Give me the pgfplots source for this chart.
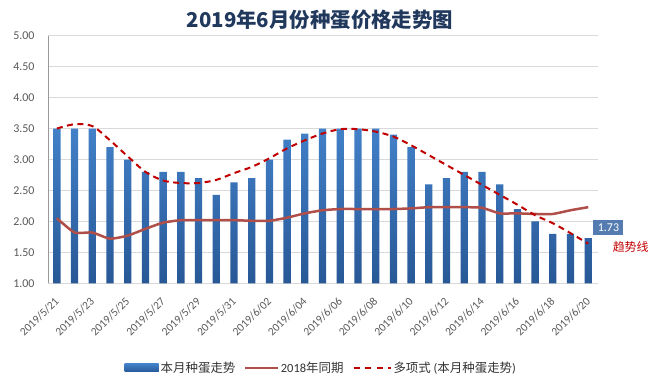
\documentclass[border=0pt]{standalone}
\usepackage{fontspec}
\setmainfont{Carlito}
\newfontfamily\cjk{Noto Sans CJK SC}
\usepackage{pgfplots}
\pgfplotsset{compat=1.18}
\definecolor{barTop}{RGB}{66,128,200}
\definecolor{barBot}{RGB}{40,88,150}
\definecolor{lastyr}{RGB}{176,78,74}
\definecolor{trend}{RGB}{192,0,0}
\definecolor{titlec}{RGB}{31,56,92}
\definecolor{tickc}{RGB}{89,89,89}
\definecolor{boxc}{RGB}{84,124,176}
\begin{document}
\begin{tikzpicture}
\path[use as bounding box] (0,0) rectangle (658bp,386bp);
\node[font=\cjk\bfseries\fontsize{20.5}{20.5}\selectfont, text=titlec] at (320bp,366bp) {2019年6月份种蛋价格走势图};
\begin{axis}[
  at={(48bp,102.7bp)}, anchor=south west,
  scale only axis, width=550bp, height=247.6bp,
  xmin=-0.5, xmax=30.55, ymin=1, ymax=5, clip=false,
  ytick={1,1.5,2,2.5,3,3.5,4,4.5,5},
  /pgf/number format/assume math mode=true,
  yticklabel style={/pgf/number format/fixed, /pgf/number format/fixed zerofill, /pgf/number format/precision=2},
  xtick={0,2,...,30},
  xticklabels={2019/5/21,2019/5/23,2019/5/25,2019/5/27,2019/5/29,2019/5/31,2019/6/02,2019/6/04,2019/6/06,2019/6/08,2019/6/10,2019/6/12,2019/6/14,2019/6/16,2019/6/18,2019/6/20},
  x tick label style={xshift=-3bp, yshift=-8bp, rotate=45, anchor=north east, font=\fontsize{11.5}{11.5}\selectfont, text=tickc},
  y tick label style={font=\fontsize{12}{12}\selectfont, text=tickc, xshift=-10bp},
  major tick length=0pt,
  ymajorgrids, grid style={draw=black!15, line width=0.6bp},
  axis y line*=left, axis x line*=bottom,
  x axis line style={draw=none}, y axis line style={draw=black!40},
  legend style={at={(0.497,-0.342)}, anchor=center, draw=none, fill=none,
    legend columns=3, font=\fontsize{12.5}{12.5}\selectfont, text=black!80,
    /tikz/every even column/.append style={column sep=7bp},
    /tikz/every odd column/.append style={column sep=0bp}},
  legend cell align=left,
]
\addplot[ybar, bar width=7.3bp, draw=none, top color=barTop, bottom color=barBot,
  legend image code/.code={\fill[barTop!70!barBot] (0bp,-4bp) rectangle (34bp,4bp);}]
coordinates {(0,3.5)(1,3.5)(2,3.5)(3,3.2)(4,3.0)(5,2.8)(6,2.8)(7,2.8)(8,2.7)(9,2.43)(10,2.63)(11,2.7)(12,3.0)(13,3.32)(14,3.42)(15,3.5)(16,3.5)(17,3.5)(18,3.5)(19,3.4)(20,3.2)(21,2.6)(22,2.7)(23,2.8)(24,2.8)(25,2.6)(26,2.2)(27,2.0)(28,1.8)(29,1.8)(30,1.73)};
\addlegendentry{\cjk 本月种蛋走势}
\addplot[lastyr, line width=2.5bp, smooth, tension=0.3, mark=none,
  legend image code/.code={\draw[lastyr, line width=1.5bp] (0bp,0bp) -- (33bp,0bp);}]
coordinates {(0,2.05)(1,1.82)(2,1.82)(3,1.72)(4,1.77)(5,1.88)(6,1.98)(7,2.02)(8,2.02)(9,2.02)(10,2.02)(11,2.01)(12,2.01)(13,2.06)(14,2.13)(15,2.18)(16,2.2)(17,2.2)(18,2.2)(19,2.2)(20,2.21)(21,2.23)(22,2.23)(23,2.23)(24,2.22)(25,2.13)(26,2.13)(27,2.12)(28,2.12)(29,2.18)(30,2.23)};
\addlegendentry{2018{\cjk 年同期}}
\addplot[trend, line width=2bp, dash pattern=on 6bp off 4.5bp, smooth, mark=none,
  legend image code/.code={\draw[trend, line width=2bp, dash pattern=on 6bp off 5.5bp] (0bp,0bp) -- (37bp,0bp);}]
coordinates {(0,3.50)(1,3.57)(2,3.54)(3,3.31)(4,3.05)(5,2.80)(6,2.66)(7,2.62)(8,2.62)(9,2.67)(10,2.78)(11,2.88)(12,3.02)(13,3.18)(14,3.31)(15,3.42)(16,3.49)(17,3.49)(18,3.45)(19,3.37)(20,3.23)(21,3.07)(22,2.91)(23,2.75)(24,2.59)(25,2.43)(26,2.27)(27,2.10)(28,1.97)(29,1.81)(30,1.64)};
\addlegendentry{{\cjk 多项式} ({\cjk 本月种蛋走势})}
\node[anchor=south west, fill=boxc, text=white, font=\fontsize{12}{12}\selectfont, inner sep=2bp, minimum width=30bp, minimum height=15bp, xshift=5bp, yshift=3bp] at (axis cs:30,1.73) {1.73};
\node[anchor=west, text=trend, font=\cjk\fontsize{12}{12}\selectfont, xshift=21bp, yshift=-9bp] at (axis cs:30,1.73) {趋势线};
\end{axis}
\end{tikzpicture}
\end{document}
